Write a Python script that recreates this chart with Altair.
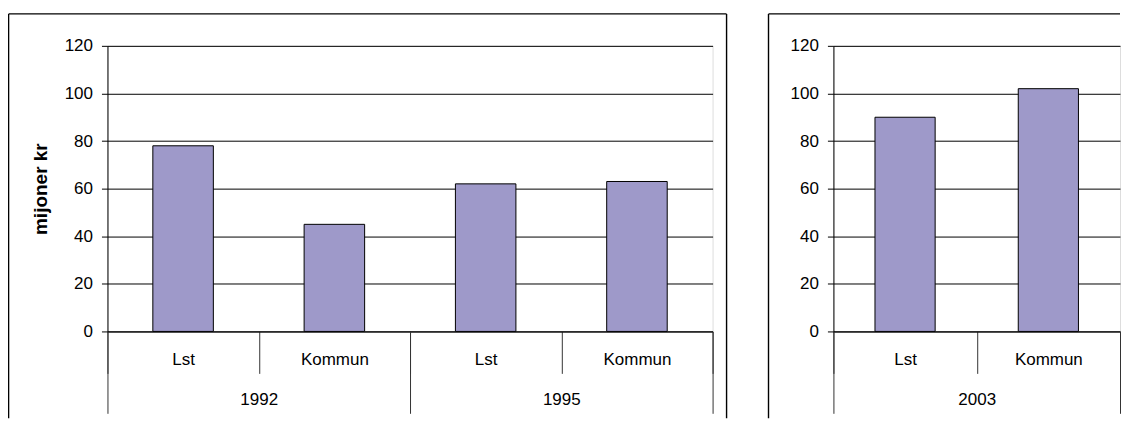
import altair as alt
import pandas as pd

# ---- data ----
years_left = ["1992", "1992", "1995", "1995"]
types_left = ["Lst", "Kommun", "Lst", "Kommun"]
values_left = [78, 45, 62, 63]

years_right = ["2003", "2003"]
types_right = ["Lst", "Kommun"]
values_right = [90, 102]

y_ticks = [0, 20, 40, 60, 80, 100, 120]
y_title = "mijoner kr"

FILL = "#9E99C9"
FONT = "Liberation Sans"
FS = 17
PLOT_H = 286


def panel(years, types, values, width, frame_left, frame_right, title, band):
    df = pd.DataFrame({"year": years, "typ": types, "value": values})
    df["key"] = df["year"] + "|" + df["typ"]
    order = list(df["key"])
    year_order = list(dict.fromkeys(years))
    base = alt.Chart(df)

    y_axis_kwargs = dict(
        values=y_ticks, grid=True, gridColor="black", gridWidth=1,
        domainColor="black", tickColor="black", tickSize=6,
        labelPadding=9, labelFontSize=FS, labelColor="black", labelFont=FONT,
    )
    if title:
        y_axis_kwargs.update(
            title=title, titleFont=FONT, titleFontSize=19, titleFontWeight="bold",
            titleColor="black", titleX=-67, titleY=PLOT_H / 2, titleAngle=270,
            titleAlign="center", titleBaseline="middle",
        )
    else:
        y_axis_kwargs.update(title=None)

    bars = base.mark_bar(
        color=FILL, stroke="black", strokeWidth=1, width={"band": band}
    ).encode(
        x=alt.X(
            "key:N", sort=order,
            scale=alt.Scale(paddingInner=0, paddingOuter=0),
            axis=alt.Axis(
                title=None, orient="bottom", labelAngle=0,
                labelExpr="split(datum.value, '|')[1]",
                tickBand="extent", tickSize=42, tickColor="#333333",
                domainColor="black", labelPadding=-14, labelBaseline="middle",
                labelFontSize=FS, labelColor="black", labelFont=FONT,
            ),
        ),
        y=alt.Y("value:Q", scale=alt.Scale(domain=[0, 120]), axis=alt.Axis(**y_axis_kwargs)),
    )

    year_layer = base.mark_tick(opacity=0).encode(
        x=alt.X(
            "year:N", sort=year_order,
            scale=alt.Scale(paddingInner=0, paddingOuter=0),
            axis=alt.Axis(
                title=None, orient="bottom", labelAngle=0, domain=False,
                tickBand="extent", tickSize=82, tickColor="#333333",
                labelPadding=-14, labelBaseline="middle",
                labelFontSize=FS, labelColor="black", labelFont=FONT,
            ),
        ),
    )

    one = alt.Chart(pd.DataFrame({"f": [0]}))
    top = -32
    bottom = 373
    right_end = frame_right if frame_right is not None else width
    layers = [
        one.mark_rule(color="black", strokeWidth=1.4).encode(
            x=alt.value(frame_left), y=alt.value(top), y2=alt.value(bottom)),
        one.mark_rule(color="black", strokeWidth=1.4).encode(
            x=alt.value(frame_left), x2=alt.value(right_end), y=alt.value(top)),
    ]
    if frame_right is not None:
        layers.append(
            one.mark_rule(color="black", strokeWidth=1.4).encode(
                x=alt.value(frame_right), y=alt.value(top), y2=alt.value(bottom)))
    layers += [bars, year_layer]
    return alt.layer(*layers).resolve_scale(x="independent").properties(width=width, height=PLOT_H)


left = panel(years_left, types_left, values_left, 606, -99, 620, y_title, 0.4)
right = panel(years_right, types_right, values_right, 287, -65, None, None, 0.42)

chart = alt.hconcat(left, right, spacing=38).properties(
    padding={"left": -1.4, "top": 3.6, "right": 0, "bottom": 0}
).configure_view(stroke="#808080", strokeWidth=1).configure(background="white")

chart.save("out.html", embed_options={"renderer": "svg", "actions": False})
